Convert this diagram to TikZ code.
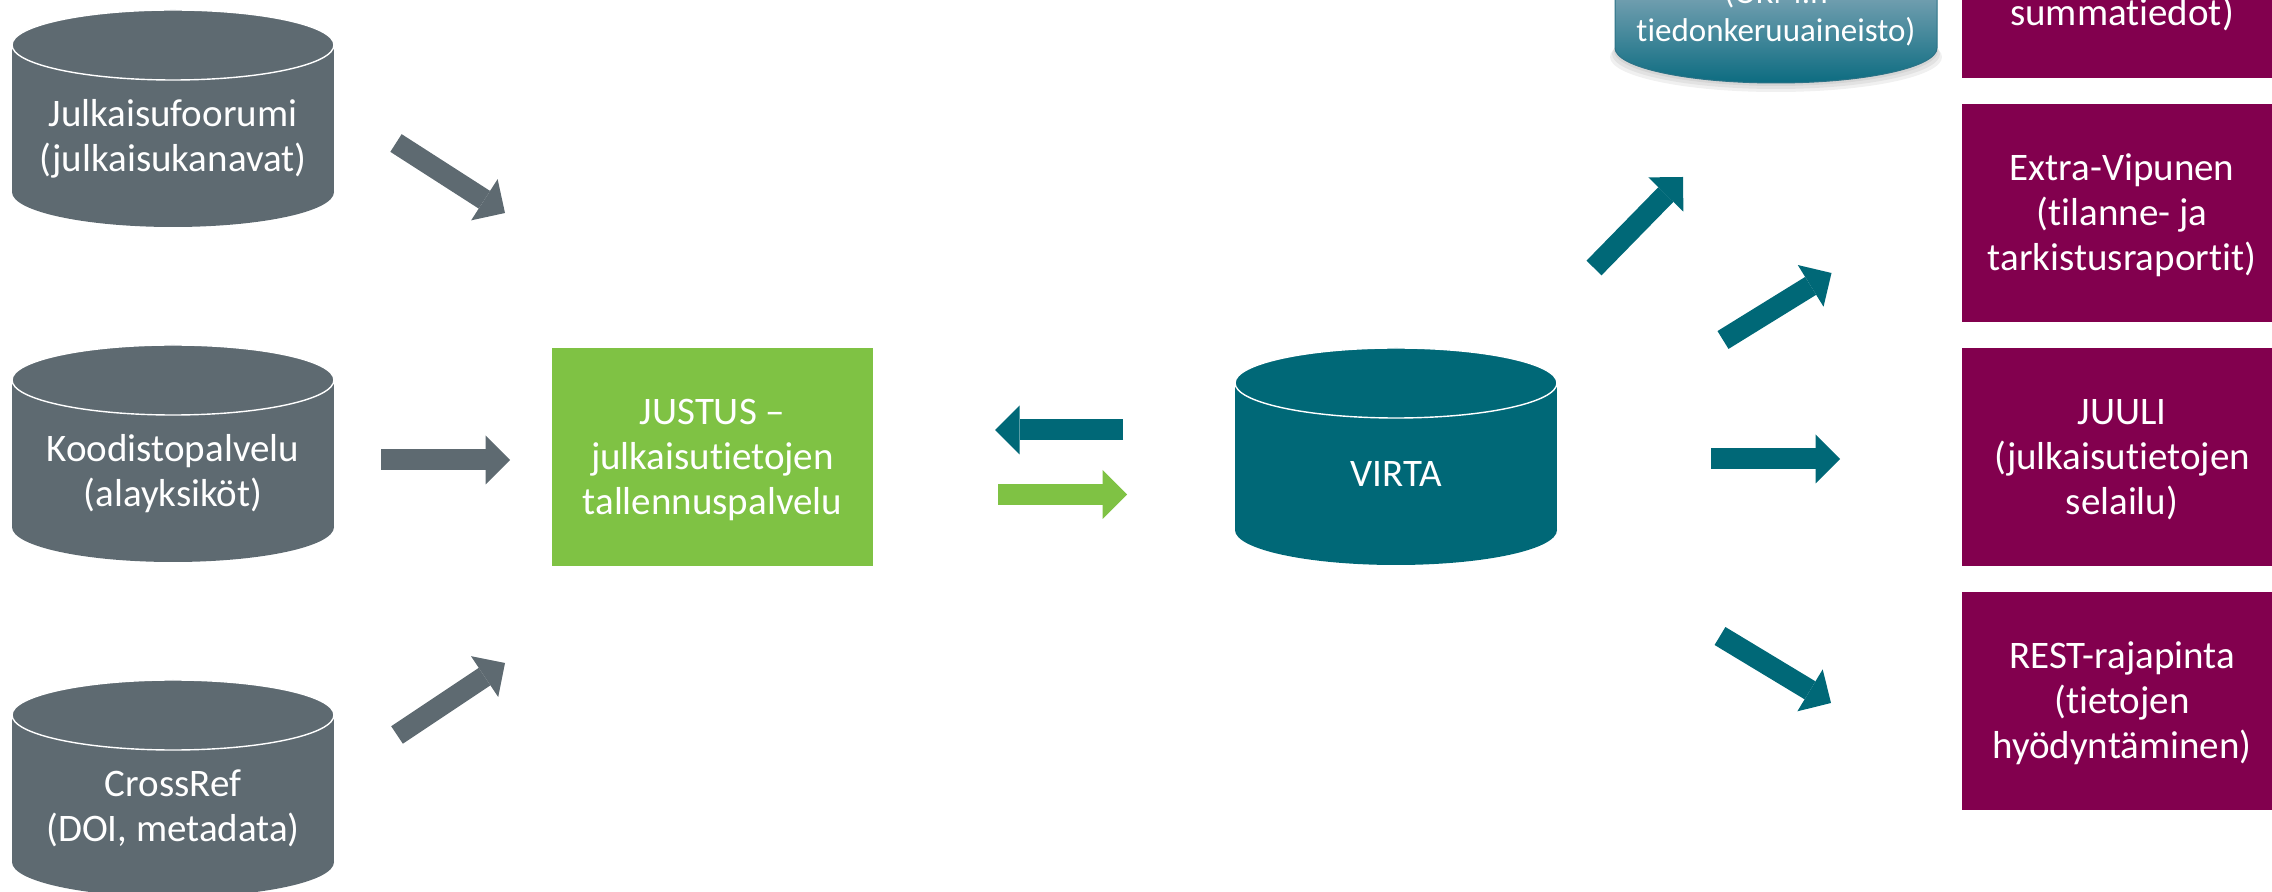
\documentclass[tikz,border=0pt]{standalone}
\usepackage{fontspec}
\setmainfont{Carlito}[Ligatures=NoCommon]
\usetikzlibrary{arrows.meta,calc}
\definecolor{cgray}{HTML}{5E6A71}
\definecolor{cteal}{HTML}{006877}
\definecolor{cgreen}{HTML}{7FC244}
\definecolor{cpurple}{HTML}{82004E}
\definecolor{ctealtop}{HTML}{6E9DAE}
\definecolor{ctealbot}{HTML}{0B6B80}
\definecolor{ctealedge}{HTML}{2C7387}
% first-line and last-line struts for the box texts
\newcommand\hstr{\rule{0pt}{18pt}}
\newcommand\dstr{\rule[-5pt]{0pt}{5pt}}
% database cylinder: fill colour, x1, y1 (top), x2, y2 (bottom)
\newcommand\dbcyl[5]{%
  \pgfmathsetmacro\dbcx{(#2+#4)/2}%
  \pgfmathsetmacro\dbrx{(#4-#2)/2}%
  \pgfmathsetmacro\dbta{#3+35}%
  \pgfmathsetmacro\dbbb{#5-35}%
  \fill[#1] (#2,\dbta) rectangle (#4,\dbbb);
  \fill[#1] (\dbcx,\dbbb) ellipse [x radius=\dbrx, y radius=35];
  \fill[#1] (\dbcx,\dbta) ellipse [x radius=\dbrx, y radius=35];
  \draw[white, line width=0.7pt] (\dbcx,\dbta) ellipse [x radius=\dbrx, y radius=35];
}
\begin{document}
\begin{tikzpicture}[x=0.5pt, y=-0.5pt,
  txt/.style={text=white, align=center, inner sep=0pt,
    font=\fontsize{19.5pt}{22.5pt}\selectfont},
  stxt/.style={text=white, align=center, inner sep=0pt,
    font=\fontsize{16.5pt}{19pt}\selectfont},
  box/.style={rectangle, inner sep=0pt, minimum width=160.5pt, minimum height=109pt},
  flow/.style={line width=10.5pt,
    -{Triangle[length=12.25pt, width=24.5pt, line width=0pt]}}]
\useasboundingbox (0,0) rectangle (2272,892);
\clip (0,0) rectangle (2272,892);

% source databases
\dbcyl{cgray}{12}{10}{334}{227}
\dbcyl{cgray}{12}{345}{334}{562}
\dbcyl{cgray}{12}{680}{334}{897}
\node[txt] (jufo) at (173,140.5) {\strut Julkaisufoorumi\\(julkaisukanavat)\strut};
\node[txt] (koodi) at (173,475.5) {\strut Koodistopalvelu\\(alayksiköt)\strut};
\node[txt] (crossref) at (173,810.5) {\strut CrossRef\\(DOI, metadata)\strut};

% JUSTUS
\node[box, txt, fill=cgreen] (justus) at (712.5,457) {\hstr JUSTUS –\\julkaisutietojen\\tallennuspalvelu\dstr};

% VIRTA
\dbcyl{cteal}{1235}{348}{1557}{565}
\node[txt] (virta) at (1396,478) {\strut VIRTA};

% OKM data collection cylinder (cut at top)
\foreach \dy/\ex in {9/5, 6/3, 3/1} {
  \fill[black, opacity=0.06] (1776,48+\dy) ellipse [x radius=161+\ex, y radius=35];
}
\begin{scope}
  \clip (1615,-140) -- (1615,48) arc [start angle=180, end angle=0, x radius=161, y radius=35] -- (1937,-140) -- cycle;
  \shade[top color=ctealtop, bottom color=ctealbot] (1600,0) rectangle (1950,84);
\end{scope}
\draw[ctealedge, line width=0.5pt] (1615,-140) -- (1615,48) arc [start angle=180, end angle=0, x radius=161, y radius=35] -- (1937,-140);
\node[stxt] (okm) at (1776,15.4) {\strut(OKM:n\\tiedonkeruuaineisto)\strut};

% output services
\node[box, fill=cpurple] (summa) at (2122,-31) {};
\node[txt] (summat) at (2122,17) {\strut summatiedot)};
\node[box, txt, fill=cpurple] (vipunen) at (2122,213) {\hstr Extra-Vipunen\\(tilanne- ja\\tarkistusraportit)\dstr};
\node[box, txt, fill=cpurple] (juuli) at (2122,457) {\hstr JUULI\\(julkaisutietojen\\selailu)\dstr};
\node[box, txt, fill=cpurple] (rest) at (2122,701) {\hstr REST-rajapinta\\(tietojen\\hyödyntäminen)\dstr};

% arrow end points
\coordinate (a1s) at (396,143);   \coordinate (a1e) at (505,213);
\coordinate (a2s) at (381,460);   \coordinate (a2e) at (510,460);
\coordinate (a3s) at (397,735);   \coordinate (a3e) at (505,663);
\coordinate (b1s) at (1123,430);  \coordinate (b1e) at (995,430);
\coordinate (b2s) at (998,494.5); \coordinate (b2e) at (1127,494.5);
\coordinate (c1s) at (1594,268);  \coordinate (c1e) at (1683,177);
\coordinate (c2s) at (1723,340);  \coordinate (c2e) at (1831.5,273);
\coordinate (c3s) at (1711,459);  \coordinate (c3e) at (1840,459);
\coordinate (c4s) at (1720,636);  \coordinate (c4e) at (1831,703);

% arrows
\draw[flow, cgray] (a1s) -- (a1e);
\draw[flow, cgray] (a2s) -- (a2e);
\draw[flow, cgray] (a3s) -- (a3e);
\draw[flow, cteal] (b1s) -- (b1e);
\draw[flow, cgreen] (b2s) -- (b2e);
\draw[flow, cteal] (c1s) -- (c1e);
\draw[flow, cteal] (c2s) -- (c2e);
\draw[flow, cteal] (c3s) -- (c3e);
\draw[flow, cteal] (c4s) -- (c4e);
\end{tikzpicture}
\end{document}
